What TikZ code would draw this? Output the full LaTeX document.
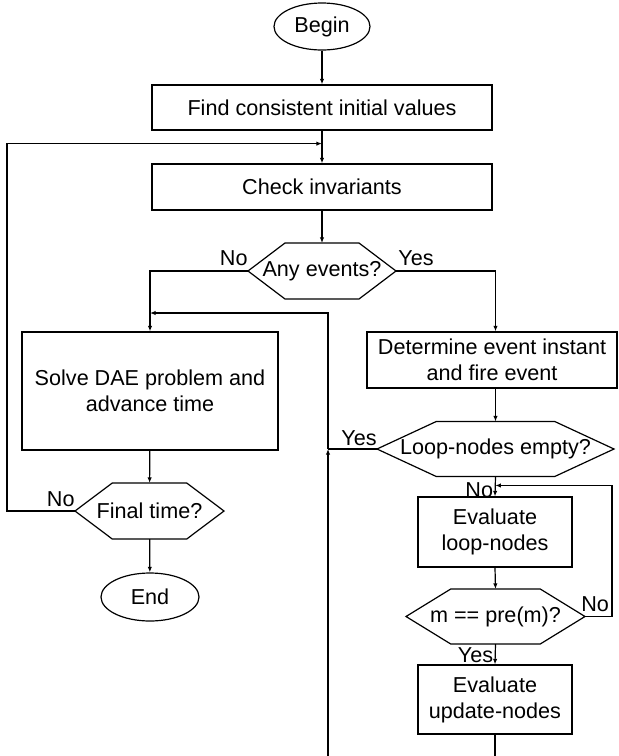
\documentclass[tikz,border=0pt]{standalone}
\usepackage{fontspec}
\setmainfont{Liberation Sans}
\usetikzlibrary{calc,arrows.meta,shapes.geometric}

% hexagonal decision outline drawn round a (frameless) rectangular node
\newcommand\hexoutline[1]{%
  \draw[line width=0.6pt] (#1.west)
    -- ($(#1.north west)!0.25!(#1.north east)$)
    -- ($(#1.north west)!0.75!(#1.north east)$)
    -- (#1.east)
    -- ($(#1.south west)!0.75!(#1.south east)$)
    -- ($(#1.south west)!0.25!(#1.south east)$)
    -- cycle;}

\begin{document}
\begin{tikzpicture}[x=0.5pt,y=-0.5pt,
  font=\fontsize{10.8}{13}\selectfont,
  box/.style={draw, rectangle, line width=0.6pt, align=center, inner sep=0pt},
  term/.style={draw, ellipse, line width=0.6pt, inner sep=0pt},
  hexnode/.style={rectangle, inner sep=0pt, outer sep=0pt, align=center},
  arr/.style={-{Latex[length=2.8pt,width=2.2pt]}, line width=0.6pt},
  conn/.style={line width=0.6pt},
  lbl/.style={inner sep=0pt}]

\path[use as bounding box] (0,0) rectangle (619,756);
\clip (0,0) rectangle (619,756);

% main column
\node[term, minimum width=48pt, minimum height=23.5pt] (begin) at (322,26.5) {Begin};
\node[box, minimum width=170pt, minimum height=22.5pt] (find) at (322,107.5) {Find consistent initial values};
\node[box, minimum width=170pt, minimum height=23pt] (check) at (322,187) {Check invariants};
\node[hexnode, minimum width=74pt, minimum height=28pt] (any) at (322,271) {Any events?};
\hexoutline{any}

% left column: continuous integration
\node[box, minimum width=128pt, minimum height=59pt] (solve) at (150,391) {Solve DAE problem and\\advance time};
\node[hexnode, minimum width=74.5pt, minimum height=28pt] (final) at (149.5,511) {Final time?};
\hexoutline{final}
\node[term, minimum width=49pt, minimum height=24pt] (end) at (150,597) {End};

% right column: event iteration
\node[box, minimum width=125pt, minimum height=28pt] (det) at (492,360) {Determine event instant\\and fire event};
\node[hexnode, minimum width=118.5pt, minimum height=27.5pt] (loop) at (495.5,449) {Loop-nodes empty?};
\hexoutline{loop}
\node[box, minimum width=77pt, minimum height=35pt] (evl) at (495,532) {Evaluate\\loop-nodes};
\node[hexnode, minimum width=89.5pt, minimum height=27.5pt] (mpre) at (495.5,616.5) {m == pre(m)?};
\hexoutline{mpre}
\node[box, minimum width=77pt, minimum height=34.5pt] (upd) at (495,699.5) {Evaluate\\update-nodes};

% junction points
\coordinate (merge) at ($(find.south)+(0,-6.5pt)$);
\coordinate (railtop) at (328,313);
\coordinate (railjoin) at (railtop |- loop.west);

% connectors
\draw[arr] (begin) -- (find);
\draw[arr] (find) -- (check);
\draw[arr] (check) -- (any);
\draw[arr] (any.west) -| (solve.north);
\draw[arr] (any.east) -| (loop.north |- det.north);
\draw[arr] (loop.north |- det.south) -- (loop.north);
\draw[arr] (loop.south) -- (evl.north);
\draw[arr] (evl.south) -- (mpre.north);
\draw[arr] (mpre.east) -- ++(13.5pt,0) |- ($(loop.south)!0.45!(evl.north)$);
\draw[arr] (mpre.south) -- (upd.north);
\draw[arr] (upd.south) -- ++(0,-20pt) -| (railjoin);
\draw[conn] (loop.west) -- (railjoin);
\draw[arr] (railjoin) -- (railtop) -- (railtop -| solve.north);
\draw[arr] (solve) -- (final);
\draw[arr] (final) -- (end);
\draw[arr] (final.west) -- ++(-34pt,0) |- (merge);

% branch labels
\node[lbl, anchor=base east] at ([yshift=3pt]any.west) {No};
\node[lbl, anchor=base west] at ([xshift=1pt,yshift=3pt]any.east) {Yes};
\node[lbl, anchor=base east] at ([yshift=2pt]loop.west) {Yes};
\node[lbl, anchor=base east] at ([xshift=-1pt,yshift=-10.5pt]loop.south) {No};
\node[lbl, anchor=base west] at ([xshift=-2pt,yshift=2.5pt]mpre.east) {No};
\node[lbl, anchor=base east] at ([xshift=-1pt,yshift=-9pt]mpre.south) {Yes};
\node[lbl, anchor=base east] at ([yshift=2.5pt]final.west) {No};
\end{tikzpicture}
\end{document}
